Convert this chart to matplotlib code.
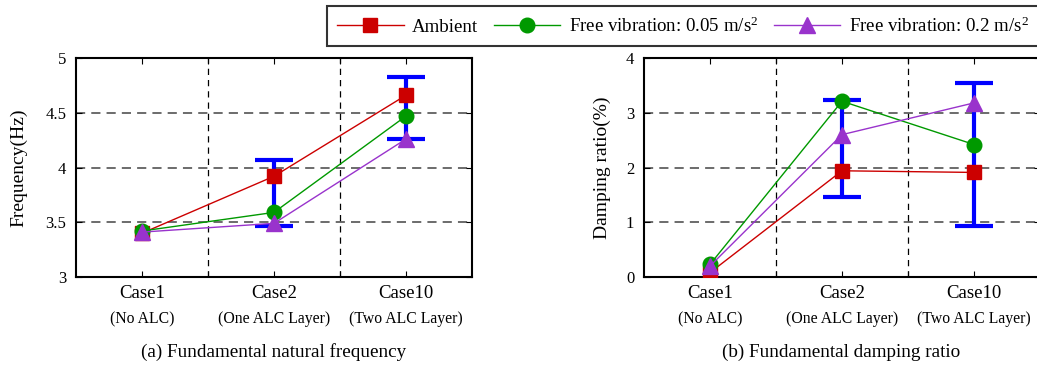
import numpy as np
import matplotlib.pyplot as plt
from matplotlib.transforms import blended_transform_factory

plt.rcParams['font.family'] = ['Liberation Serif', 'DejaVu Serif']
plt.rcParams['mathtext.fontset'] = 'custom'
plt.rcParams['mathtext.rm'] = 'Liberation Serif'
plt.rcParams['mathtext.it'] = 'Liberation Serif:italic'

# data
cases = ['Case1', 'Case2', 'Case10']
case_notes = ['(No ALC)', '(One ALC Layer)', '(Two ALC Layer)']

freq_ambient = [3.40, 3.92, 4.66]
freq_free_005 = [3.42, 3.59, 4.47]
freq_free_02 = [3.41, 3.49, 4.26]
freq_err_lo = [3.47, 4.26]
freq_err_hi = [4.07, 4.83]

damp_ambient = [0.08, 1.94, 1.91]
damp_free_005 = [0.23, 3.21, 2.42]
damp_free_02 = [0.20, 2.60, 3.18]
damp_err_lo = [1.46, 0.94]
damp_err_hi = [3.23, 3.54]

series_labels = ['Ambient', r'Free vibration: 0.05 m/s$^2$', r'Free vibration: 0.2 m/s$^2$']
RED = '#cc0000'
GREEN = '#009900'
PURPLE = '#9933cc'
BLUE = '#0000ff'

W, H = 1037, 365
fig = plt.figure(figsize=(W / 100, H / 100), dpi=100)

ax1 = fig.add_axes([76 / W, 1 - 277 / H, 396 / W, 219 / H])
ax2 = fig.add_axes([644 / W, 1 - 277 / H, 396 / W, 219 / H])


def draw_panel(ax, amb, f005, f02, lo, hi, ylim, yticks, ylabel, labelpad):
    x = np.arange(1, len(cases) + 1)
    # blue range bars for Case2 and Case10
    xe = x[1:]
    lo = np.array(lo)
    hi = np.array(hi)
    mid = (lo + hi) / 2
    ax.errorbar(xe, mid, yerr=[mid - lo, hi - mid], fmt='none', ecolor=BLUE,
                elinewidth=3, capsize=14, capthick=3, zorder=3)
    h1, = ax.plot(x, amb, '-s', color=RED, lw=1, ms=9.5, zorder=4)
    h2, = ax.plot(x, f005, '-o', color=GREEN, lw=1, ms=10.5, zorder=5)
    h3, = ax.plot(x, f02, '-^', color=PURPLE, lw=1, ms=11, zorder=6)

    ax.set_xlim(0.5, 3.5)
    ax.set_ylim(*ylim)
    for yv in yticks[1:-1]:
        ax.axhline(yv, color='#444444', lw=1.1, ls=(0, (6, 4)), zorder=1)
    for xv in [1.5, 2.5]:
        ax.axvline(xv, color='black', lw=0.9, ls=(0, (5, 4)), zorder=1)

    ax.set_xticks([1, 1.5, 2, 2.5, 3])
    ax.set_xticklabels(['Case1', '', 'Case2', '', 'Case10'], fontsize=13.5)
    ax.set_yticks(yticks)
    ax.set_yticklabels([f'{v:g}' for v in yticks], fontsize=12)
    ax.tick_params(direction='in', top=True, right=True, length=4, width=0.8)
    ax.tick_params(axis='x', pad=6)
    ax.tick_params(axis='y', pad=7)
    for s in ax.spines.values():
        s.set_linewidth(1.5)
    ax.set_ylabel(ylabel, fontsize=14, labelpad=labelpad)

    tr = blended_transform_factory(ax.transData, ax.transAxes)
    for xi, note in zip(x, case_notes):
        ax.text(xi, -0.192, note, transform=tr, ha='center', va='center', fontsize=11.3)
    return h1, h2, h3


handles = draw_panel(ax1, freq_ambient, freq_free_005, freq_free_02,
                     freq_err_lo, freq_err_hi, (3, 5), [3, 3.5, 4, 4.5, 5],
                     'Frequency(Hz)', 13)
draw_panel(ax2, damp_ambient, damp_free_005, damp_free_02,
           damp_err_lo, damp_err_hi, (0, 4), [0, 1, 2, 3, 4],
           'Damping ratio(%)', 11)

fig.text(274 / W, 1 - 352 / H, '(a) Fundamental natural frequency',
         ha='center', va='center', fontsize=13.8)
fig.text(841 / W, 1 - 352 / H, '(b) Fundamental damping ratio',
         ha='center', va='center', fontsize=13.8)

leg = fig.legend(handles, series_labels, loc='upper left',
                 bbox_to_anchor=(327 / W, 1 - 6 / H), ncol=3, fontsize=13.6,
                 frameon=True, fancybox=False, edgecolor='black',
                 handlelength=3.5, handletextpad=0.45, columnspacing=0.85,
                 borderpad=0.55, borderaxespad=0)
leg.get_frame().set_linewidth(1.5)

fig.savefig('out.png', dpi=100)
